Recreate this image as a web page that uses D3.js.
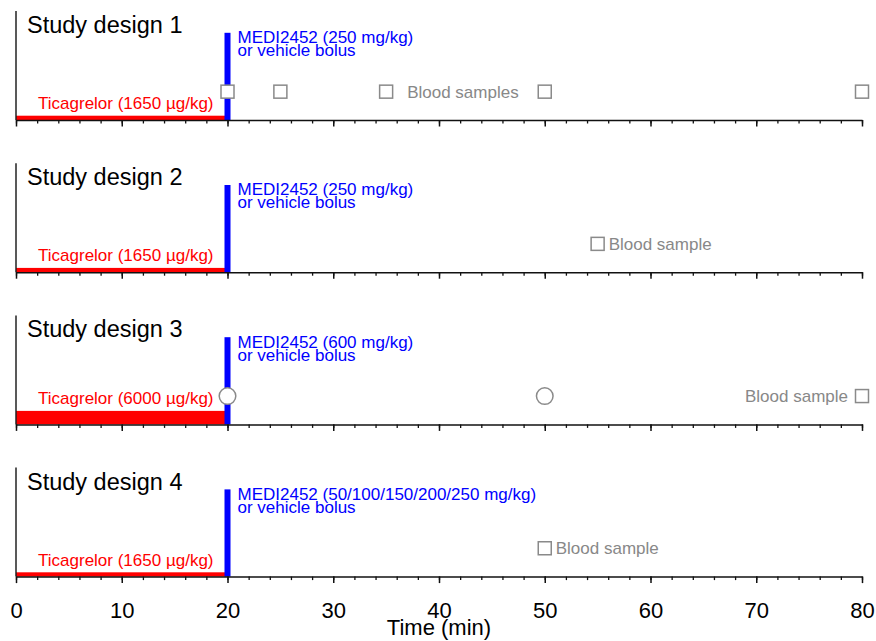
<!DOCTYPE html>
<html>
<head>
<meta charset="utf-8">
<script src="https://cdn.jsdelivr.net/npm/d3@7"></script>
<style>
  body { margin: 0; background: #fff; }
  text { font-family: "Liberation Sans", Arial, Helvetica, sans-serif; }
</style>
</head>
<body>
<script>
// study designs, one panel each
var designs = ["Study design 1", "Study design 2", "Study design 3", "Study design 4"];
var ticagrelorDose = [1650, 1650, 6000, 1650];     // µg/kg, infused from 0 to bolus time
var mediDose = ["250 mg/kg", "250 mg/kg", "600 mg/kg", "50/100/150/200/250 mg/kg"];
var bolusTime = [20, 20, 20, 20];
var squareSamples = [[20, 25, 35, 50, 80], [55], [80], [50]];
var circleSamples = [[], [], [20, 50], []];
var sampleLabel = ["Blood samples", "Blood sample", "Blood sample", "Blood sample"];
var sampleLabelAt = [35, 55, 80, 50];
var sampleLabelSide = ["right", "right", "left", "right"];
var timeTicks = [0, 10, 20, 30, 40, 50, 60, 70, 80];

var width = 876,
    height = 641,
    panelTop = 11,
    panelH = 109,
    panelStep = 152.2;

var svg = d3.select("body").append("svg")
    .attr("width", width)
    .attr("height", height);

var x = d3.scaleLinear().domain([0, 80]).range([16, 862]);
// vertical position inside a panel, 0 = axis, 1 = top
var y = d3.scaleLinear().domain([0, 1]).range([panelH, 0]);
var thick = d3.scaleLinear().domain([0, 6000]).range([0.8, 13.5]);

designs.forEach(function(name, i) {
    var g = svg.append("g")
        .attr("transform", "translate(0," + (panelTop + i * panelStep) + ")");

    // ticagrelor infusion bar
    var t = thick(ticagrelorDose[i]);
    g.append("rect")
        .attr("x", x(0))
        .attr("y", y(0) - t)
        .attr("width", x(bolusTime[i]) - x(0))
        .attr("height", t)
        .attr("fill", "#ff0000");

    g.append("text")
        .attr("x", x(bolusTime[i]) - 14)
        .attr("y", y(0) - t - 6.5)
        .attr("text-anchor", "end")
        .attr("fill", "#ff0000")
        .style("font-size", "17px")
        .text("Ticagrelor (" + ticagrelorDose[i] + " \u00b5g/kg)");

    // bolus bar
    g.append("rect")
        .attr("x", x(bolusTime[i]) - 3)
        .attr("y", y(0.8))
        .attr("width", 6)
        .attr("height", y(0) - y(0.8))
        .attr("fill", "#0000ff");

    // two label lines, set tight as in the original
    g.append("text")
        .attr("x", x(bolusTime[i]) + 10)
        .attr("y", y(0.705))
        .attr("fill", "#0000ff")
        .style("font-size", "17px")
        .text("MEDI2452 (" + mediDose[i] + ")");
    g.append("text")
        .attr("x", x(bolusTime[i]) + 10)
        .attr("y", y(0.705) + 13)
        .attr("fill", "#0000ff")
        .style("font-size", "17px")
        .text("or vehicle bolus");

    // axes
    g.append("line")
        .attr("x1", x(0)).attr("x2", x(0))
        .attr("y1", 0).attr("y2", y(0))
        .attr("stroke", "#222")
        .attr("stroke-width", 1.5);

    var minor = g.append("g")
        .attr("transform", "translate(0," + y(0) + ")")
        .call(d3.axisBottom(x).tickValues(d3.range(0, 81, 2)).tickSize(3.5).tickSizeOuter(0).tickFormat(""));
    minor.select(".domain").attr("stroke-width", 1.5).attr("stroke", "#111");
    minor.selectAll(".tick line").attr("stroke-width", 1.3).attr("stroke", "#111");

    var major = g.append("g")
        .attr("transform", "translate(0," + y(0) + ")")
        .call(d3.axisBottom(x).tickValues(timeTicks).tickSize(6.5).tickSizeOuter(0)
            .tickFormat(i === designs.length - 1 ? d3.format("d") : ""));
    major.select(".domain").remove();
    major.selectAll(".tick line").attr("stroke-width", 1.5).attr("stroke", "#111");
    major.selectAll(".tick text")
        .attr("y", 26)
        .attr("dy", "0.71em")
        .attr("fill", "#000")
        .style("font-family", "'Liberation Sans', Arial, sans-serif")
        .style("font-size", "22px");

    // blood samples
    g.selectAll(".sq")
        .data(squareSamples[i])
        .enter().append("rect")
        .attr("class", "sq")
        .attr("x", function(d) { return x(d) - 6.5; })
        .attr("y", y(0.26) - 6.5)
        .attr("width", 13)
        .attr("height", 13)
        .attr("fill", "#fff")
        .attr("stroke", "#8a8a8a")
        .attr("stroke-width", 1.5);

    g.selectAll(".ci")
        .data(circleSamples[i])
        .enter().append("circle")
        .attr("class", "ci")
        .attr("cx", function(d) { return x(d); })
        .attr("cy", y(0.26))
        .attr("r", 8.3)
        .attr("fill", "#fff")
        .attr("stroke", "#8a8a8a")
        .attr("stroke-width", 1.5);

    var right = sampleLabelSide[i] === "right";
    var dx = sampleLabelAt[i] === 35 ? 21 : 11;
    g.append("text")
        .attr("x", x(sampleLabelAt[i]) + (right ? dx : -dx - 3))
        .attr("y", y(0.26) + 6)
        .attr("text-anchor", right ? "start" : "end")
        .attr("fill", "#888")
        .style("font-size", "17px")
        .text(sampleLabel[i]);

    g.append("text")
        .attr("x", 27)
        .attr("y", 22)
        .attr("fill", "#000")
        .style("font-size", "23.5px")
        .text(name);
});

svg.append("text")
    .attr("x", (x(0) + x(80)) / 2)
    .attr("y", 635)
    .attr("text-anchor", "middle")
    .attr("fill", "#000")
    .style("font-size", "22px")
    .text("Time (min)");
</script>
</body>
</html>
